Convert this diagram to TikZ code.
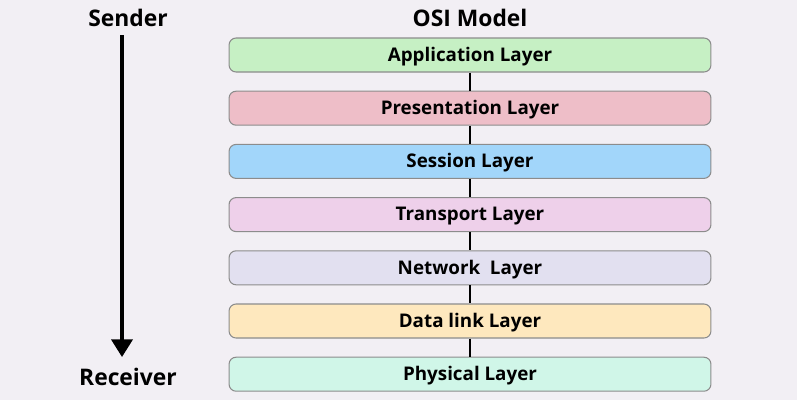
\documentclass[tikz,border=0pt]{standalone}
\usepackage{fontspec}
\setmainfont{Open Sans}
\definecolor{bgcolor}{RGB}{242, 239, 244}
\definecolor{appgreen}{RGB}{198, 240, 196}
\definecolor{presred}{RGB}{238, 190, 200}
\definecolor{sessblue}{RGB}{162, 214, 250}
\definecolor{transpink}{RGB}{238, 208, 234}
\definecolor{netlilac}{RGB}{226, 224, 240}
\definecolor{datayellow}{RGB}{254, 232, 190}
\definecolor{phymint}{RGB}{208, 246, 232}
\usepackage{tikz}
\usetikzlibrary{arrows.meta, positioning}

\begin{document}
\begin{tikzpicture}[x=0.02cm, y=-0.02cm,
    layerbox/.style={draw=black!45, line width=0.6pt, rounded corners=4pt,
        minimum width=9.64cm, minimum height=0.68cm, text height=0.714em, text depth=0pt,
        font=\bfseries\fontsize{10.7}{12}\selectfont},
    sidelabel/.style={font=\bfseries\fontsize{13}{15}\selectfont}]
    % background and page size
    \fill[bgcolor] (0,0) rectangle (797,400);
    \useasboundingbox (0,0) rectangle (797,400);
    \node[sidelabel] (title) at (470, 18) {OSI Model};
    % OSI layers, top to bottom
    \foreach \i/\name/\color in {
        1/Application Layer/appgreen,
        2/Presentation Layer/presred,
        3/Session Layer/sessblue,
        4/Transport Layer/transpink,
        5/Network\ \ Layer/netlilac,
        6/Data link Layer/datayellow,
        7/Physical Layer/phymint%
    } {
        \node[layerbox, fill=\color] (l\i) at (470, 55+\i*53.2-53.2) {\name};
    }
    \foreach \i [evaluate=\i as \j using int(\i+1)] in {1,...,6} {
        \draw[line width=1.1pt] (l\i) -- (l\j);
    }
    % sender -> receiver
    \node[sidelabel] (sender) at (128, 18) {Sender};
    \node[sidelabel] (receiver) at (128, 377) {Receiver};
    \coordinate (arrtop) at (122, 35);
    \coordinate (arrtip) at (122, 357);
    \draw[line width=1.9pt, -{Triangle[width=12pt, length=10pt]}] (arrtop) -- (arrtip);
\end{tikzpicture}
\end{document}
